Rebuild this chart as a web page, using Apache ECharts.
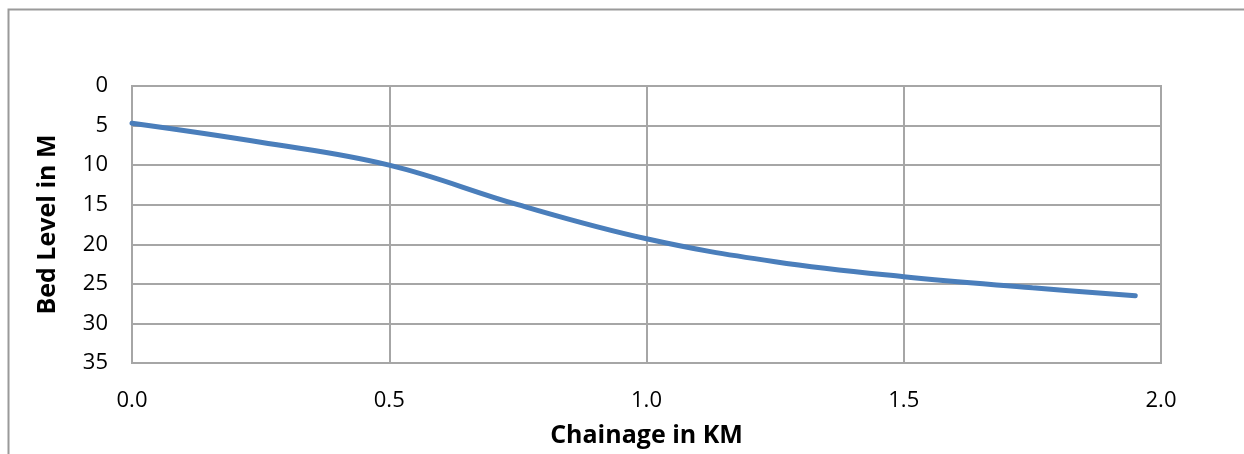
<!DOCTYPE html>
<html>
<head>
<meta charset="utf-8">
<script src="https://cdn.jsdelivr.net/npm/echarts@6/dist/echarts.min.js"></script>
<style>
  html, body { margin: 0; padding: 0; background: #fff; }
  #chart { width: 1244px; height: 454px; }
</style>
</head>
<body>
<div id="chart"></div>
<script>
// chainage (km) and bed level (m)
var chainage = [0.0, 0.25, 0.5, 0.75, 1.0, 1.25, 1.5, 1.75, 1.95];
var bedLevel = [4.7, 7.1, 10.0, 15.0, 19.3, 22.2, 24.1, 25.5, 26.5];

var points = chainage.map(function (c, i) {
  return [c, bedLevel[i]];
});

var myChart = echarts.init(document.getElementById("chart"));
var gridColor = "#a6a6a6";
var option = {
  backgroundColor: "#fff",
  animation: false,
  graphic: [
    {
      type: "rect",
      shape: { x: 8.5, y: 9.5, width: 1300, height: 500 },
      style: { fill: "none", stroke: "#9a9a9a", lineWidth: 2 },
      silent: true,
    },
  ],
  grid: {
    left: 132,
    top: 86,
    right: 83,
    bottom: 91,
    outerBoundsMode: "none",
    containLabel: false,
    show: true,
    borderColor: gridColor,
    borderWidth: 2,
  },
  xAxis: {
    type: "value",
    min: 0,
    max: 2,
    interval: 0.5,
    name: "Chainage in KM",
    nameLocation: "middle",
    nameGap: 60,
    nameTextStyle: {
      fontFamily: "Open Sans",
      fontWeight: "bold",
      fontSize: 25,
      color: "#000",
    },
    axisLabel: {
      margin: 27,
      fontFamily: "Open Sans",
      fontSize: 22,
      color: "#000",
      formatter: function (v) {
        return v.toFixed(1);
      },
    },
    axisTick: { show: false },
    axisLine: { show: true, lineStyle: { color: gridColor, width: 2 } },
    splitLine: { show: true, lineStyle: { color: gridColor, width: 2 } },
  },
  yAxis: {
    type: "value",
    inverse: true,
    min: 0,
    max: 35,
    interval: 5,
    name: "Bed Level in M",
    nameLocation: "middle",
    nameGap: 72,
    nameTextStyle: {
      fontFamily: "Open Sans",
      fontWeight: "bold",
      fontSize: 25,
      color: "#000",
    },
    axisLabel: {
      margin: 24,
      fontFamily: "Open Sans",
      fontSize: 22,
      color: "#000",
    },
    axisTick: { show: false },
    axisLine: { show: true, lineStyle: { color: gridColor, width: 2 } },
    splitLine: { show: true, lineStyle: { color: gridColor, width: 2 } },
  },
  series: [
    {
      type: "line",
      data: points,
      smooth: 0.4,
      showSymbol: false,
      lineStyle: { color: "#4a7ebb", width: 5, cap: "round" },
    },
  ],
};
myChart.setOption(option);
window.onresize = function () {
  myChart.resize();
};
</script>
</body>
</html>
